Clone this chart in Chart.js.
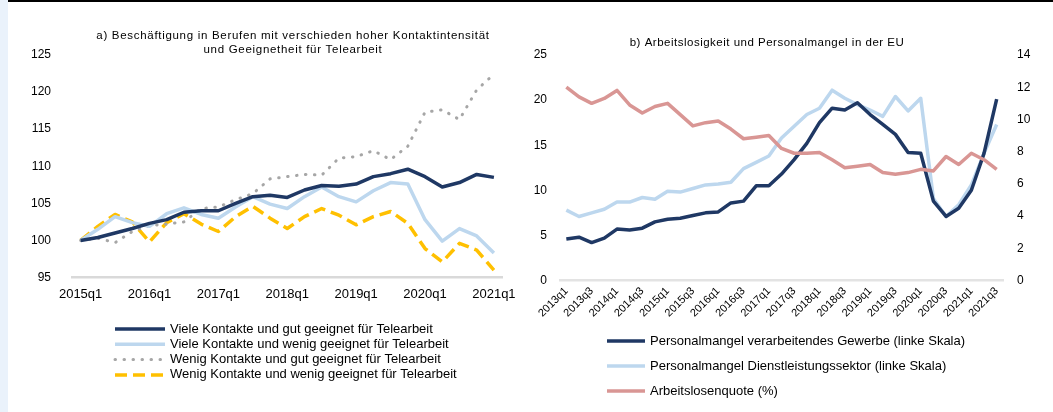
<!DOCTYPE html>
<html>
<head>
<meta charset="utf-8">
<script src="https://cdn.jsdelivr.net/npm/chart.js@4/dist/chart.umd.min.js"></script>
<style>
  html, body { margin: 0; padding: 0; background: #fff; }
  body { width: 1053px; height: 412px; position: relative; overflow: hidden; }
  #strip { position: absolute; left: 0; top: 0; width: 8px; height: 412px; background: #eaf2fb; }
  #topline { position: absolute; left: 8px; top: 0; width: 1045px; height: 2px; background: #000; }
  canvas { position: absolute; top: 0; }
  #chartA { left: 0; }
  #chartB { left: 525px; }
</style>
</head>
<body>
<div id="strip"></div>
<div id="topline"></div>
<canvas id="chartA" width="525" height="412"></canvas>
<canvas id="chartB" width="528" height="412"></canvas>
<script>
// a) Beschäftigung, Index 2015q1 = 100
const quartersA = ['2015q1','2015q2','2015q3','2015q4','2016q1','2016q2','2016q3','2016q4',
  '2017q1','2017q2','2017q3','2017q4','2018q1','2018q2','2018q3','2018q4',
  '2019q1','2019q2','2019q3','2019q4','2020q1','2020q2','2020q3','2020q4','2021q1'];
const vieleGut   = [100, 100.4, 101.0, 101.6, 102.3, 102.8, 103.8, 104.0, 104.0, 105.0, 105.9, 106.1, 105.8,
  106.8, 107.4, 107.3, 107.6, 108.6, 109.0, 109.6, 108.6, 107.2, 107.8, 108.9, 108.5];
const vieleWenig = [100, 101.5, 103.2, 102.4, 101.9, 103.6, 104.4, 103.5, 103.0, 104.5, 105.9, 104.9, 104.3,
  105.9, 107.2, 105.9, 105.2, 106.7, 107.8, 107.6, 102.8, 99.9, 101.6, 100.6, 98.3];
const wenigGut   = [100, 100.3, 99.7, 101.2, 102.0, 102.2, 102.5, 104.3, 104.5, 105.5, 106.3, 108.3, 108.6,
  108.9, 108.8, 111.1, 111.3, 112.1, 110.9, 112.7, 117.3, 117.6, 116.3, 120.3, 122.4];
const wenigWenig = [100, 101.9, 103.5, 102.5, 99.8, 102.4, 103.6, 102.2, 101.2, 103.2, 104.6, 103.0, 101.6,
  103.2, 104.3, 103.4, 102.1, 103.2, 103.9, 102.3, 98.9, 97.1, 99.6, 98.7, 96.0];

// b) Arbeitslosigkeit und Personalmangel
const quartersB = ['2013q1','2013q2','2013q3','2013q4','2014q1','2014q2','2014q3','2014q4',
  '2015q1','2015q2','2015q3','2015q4','2016q1','2016q2','2016q3','2016q4',
  '2017q1','2017q2','2017q3','2017q4','2018q1','2018q2','2018q3','2018q4',
  '2019q1','2019q2','2019q3','2019q4','2020q1','2020q2','2020q3','2020q4',
  '2021q1','2021q2','2021q3'];
const mangelGewerbe = [4.6, 4.8, 4.2, 4.7, 5.7, 5.6, 5.8, 6.5, 6.8, 6.9, 7.2, 7.5, 7.6, 8.6, 8.8, 10.5, 10.5,
  11.8, 13.4, 15.2, 17.5, 19.1, 18.9, 19.7, 18.4, 17.3, 16.2, 14.2, 14.1, 8.8, 7.1, 8.0, 10.0, 14.1, 20.1];
const mangelDienst  = [7.8, 7.1, 7.5, 7.9, 8.7, 8.7, 9.2, 9.0, 9.9, 9.8, 10.2, 10.6, 10.7, 10.9, 12.4, 13.1, 13.8,
  15.8, 17.1, 18.4, 19.1, 21.1, 20.2, 19.5, 18.9, 18.2, 20.4, 18.8, 20.2, 9.1, 7.1, 8.4, 10.6, 14.1, 17.3];
const arbeitslosenquote = [12.0, 11.4, 11.0, 11.3, 11.8, 10.9, 10.4, 10.8, 11.0, 10.3, 9.6, 9.8, 9.9, 9.4, 8.8, 8.9, 9.0,
  8.2, 7.9, 7.9, 7.95, 7.5, 7.0, 7.1, 7.2, 6.7, 6.6, 6.7, 6.9, 6.8, 7.7, 7.2, 7.9, 7.5, 6.9];

const FONT = "'Liberation Sans', Arial, sans-serif";
const NAVY = '#1f3864', LIGHT = '#bdd7ee', GREY = '#a6a6a6', GOLD = '#ffc000', ROSE = '#d99694';

// draws the titles and the one-per-row legend
function captions(cfg) {
  return {
    id: 'captions',
    afterDraw(chart) {
      const ctx = chart.ctx;
      ctx.save();
      ctx.fillStyle = '#000';
      ctx.textBaseline = 'middle';
      ctx.textAlign = 'center';
      ctx.font = cfg.titleFont + ' ' + FONT;
      if ('letterSpacing' in ctx) ctx.letterSpacing = cfg.titleSpacing;
      cfg.title.forEach((line, k) => ctx.fillText(line, cfg.titleX, cfg.titleY + k * cfg.titleStep));
      if ('letterSpacing' in ctx) ctx.letterSpacing = '0px';
      ctx.textAlign = 'left';
      ctx.font = cfg.legendFont + ' ' + FONT;
      cfg.items.forEach((idx, k) => {
        const ds = chart.data.datasets[idx];
        const y = cfg.legendY + k * cfg.legendStep;
        ctx.beginPath();
        ctx.strokeStyle = ds.borderColor;
        ctx.lineWidth = ds.borderWidth;
        ctx.lineCap = ds.borderCapStyle || 'butt';
        ctx.setLineDash(ds.borderDash || []);
        ctx.moveTo(cfg.legendX, y);
        ctx.lineTo(cfg.legendX + cfg.sample, y);
        ctx.stroke();
        ctx.fillText(ds.label, cfg.legendX + cfg.sample + 5, y);
      });
      ctx.restore();
    }
  };
}

const tickFont = (size) => ({ family: FONT, size: size });

new Chart(document.getElementById('chartA'), {
  type: 'line',
  data: {
    labels: quartersA,
    datasets: [
      { label: 'Viele Kontakte und gut geeignet für Telearbeit', data: vieleGut,
        borderColor: NAVY, borderWidth: 3.5 },
      { label: 'Viele Kontakte und wenig geeignet für Telearbeit', data: vieleWenig,
        borderColor: LIGHT, borderWidth: 3.5 },
      { label: 'Wenig Kontakte und gut geeignet für Telearbeit', data: wenigGut,
        borderColor: GREY, borderWidth: 3, borderDash: [0.5, 8.5], borderCapStyle: 'round' },
      { label: 'Wenig Kontakte und wenig geeignet für Telearbeit', data: wenigWenig,
        borderColor: GOLD, borderWidth: 3.5, borderDash: [12, 6] }
    ]
  },
  options: {
    responsive: false,
    animation: false,
    layout: { padding: { left: 8, right: 20, top: 55, bottom: 110.5 } },
    elements: { point: { radius: 0 }, line: { tension: 0, borderJoinStyle: 'round' } },
    plugins: { legend: { display: false }, title: { display: false }, tooltip: { enabled: false } },
    scales: {
      x: {
        offset: true,
        grid: { display: false, drawTicks: false },
        border: { display: true, color: '#d9d9d9', width: 2.5 },
        afterFit: (s) => { s.height = 24; },
        ticks: {
          autoSkip: false, maxRotation: 0, minRotation: 0, padding: 9,
          color: '#000', font: tickFont(13),
          callback: (v, i) => (i % 4 === 0 ? quartersA[i] : null)
        }
      },
      y: {
        min: 95, max: 125,
        grid: { display: false, drawTicks: false },
        border: { display: false },
        afterFit: (s) => { s.width = 64; },
        ticks: { stepSize: 5, padding: 21, color: '#000', font: tickFont(12) }
      }
    }
  },
  plugins: [captions({
    title: ['a) Beschäftigung in Berufen mit verschieden hoher Kontaktintensität',
            'und Geeignetheit für Telearbeit'],
    titleFont: '11.5px', titleSpacing: '0.7px', titleX: 293, titleY: 36, titleStep: 13.5,
    items: [0, 1, 2, 3],
    legendFont: '13px', legendX: 115, legendY: 329, legendStep: 15.3, sample: 50
  })]
});

new Chart(document.getElementById('chartB'), {
  type: 'line',
  data: {
    labels: quartersB,
    datasets: [
      { label: 'Personalmangel verarbeitendes Gewerbe (linke Skala)', data: mangelGewerbe,
        borderColor: NAVY, borderWidth: 3.5, yAxisID: 'y', order: 1 },
      { label: 'Personalmangel Dienstleistungssektor (linke Skala)', data: mangelDienst,
        borderColor: LIGHT, borderWidth: 3.5, yAxisID: 'y', order: 2 },
      { label: 'Arbeitslosenquote (%)', data: arbeitslosenquote,
        borderColor: ROSE, borderWidth: 3.5, yAxisID: 'y2', order: 0 }
    ]
  },
  options: {
    responsive: false,
    animation: false,
    layout: { padding: { left: 0, right: 20, top: 55, bottom: 86.5 } },
    elements: { point: { radius: 0 }, line: { tension: 0, borderJoinStyle: 'round' } },
    plugins: { legend: { display: false }, title: { display: false }, tooltip: { enabled: false } },
    scales: {
      x: {
        offset: true,
        grid: { display: false, drawTicks: false },
        border: { display: true, color: '#e3e3e3', width: 2.5 },
        afterFit: (s) => { s.height = 45; },
        ticks: {
          autoSkip: false, maxRotation: 45, minRotation: 45, padding: 4,
          color: '#000', font: tickFont(11),
          callback: (v, i) => (i % 2 === 0 ? quartersB[i] : null)
        }
      },
      y: {
        position: 'left', min: 0, max: 25,
        grid: { display: false, drawTicks: false },
        border: { display: false },
        afterFit: (s) => { s.width = 35; },
        ticks: { stepSize: 5, padding: 13, color: '#000', font: tickFont(12) }
      },
      y2: {
        position: 'right', min: 0, max: 14,
        grid: { display: false, drawTicks: false },
        border: { display: false },
        afterFit: (s) => { s.width = 30; },
        ticks: { stepSize: 2, padding: 14, color: '#000', font: tickFont(12) }
      }
    }
  },
  plugins: [captions({
    title: ['b) Arbeitslosigkeit und Personalmangel in der EU'],
    titleFont: '11.5px', titleSpacing: '0.5px', titleX: 242, titleY: 43, titleStep: 13.5,
    items: [0, 1, 2],
    legendFont: '13px', legendX: 82, legendY: 341, legendStep: 25, sample: 38
  })]
});
</script>
</body>
</html>
